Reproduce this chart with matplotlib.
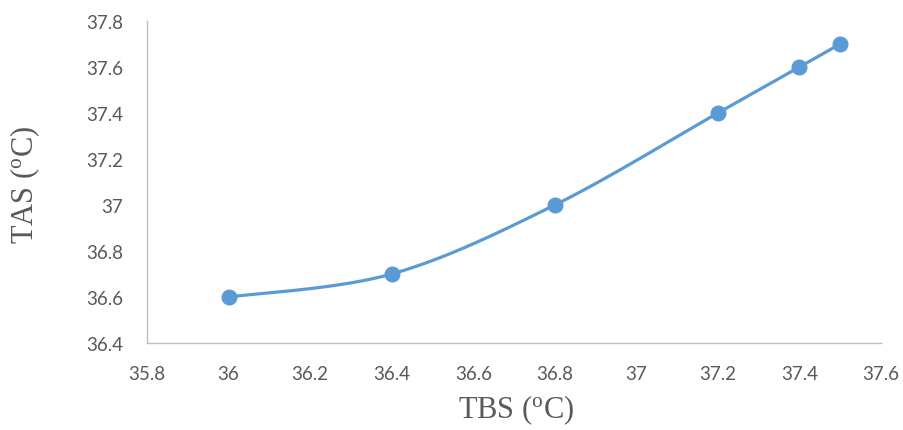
import matplotlib
matplotlib.use('Agg')
import matplotlib.pyplot as plt
import numpy as np

tbs = [36.0, 36.4, 36.8, 37.2, 37.4, 37.5]
tas = [36.6, 36.7, 37.0, 37.4, 37.6, 37.7]
x_ticks = [35.8, 36.0, 36.2, 36.4, 36.6, 36.8, 37.0, 37.2, 37.4, 37.6]
y_ticks = [36.4, 36.6, 36.8, 37.0, 37.2, 37.4, 37.6, 37.8]

BLUE = '#5B9BD5'
GREY = '#595959'


def smooth_curve(xs, ys, n=40):
    # excel style smoothing: bezier segments with catmull-rom control points
    pts = np.column_stack([xs, ys])
    out = []
    for i in range(len(pts) - 1):
        p0 = pts[i - 1] if i > 0 else pts[i]
        p1 = pts[i]
        p2 = pts[i + 1]
        p3 = pts[i + 2] if i + 2 < len(pts) else pts[i + 1]
        c1 = p1 + (p2 - p0) / 6.0
        c2 = p2 - (p3 - p1) / 6.0
        t = np.linspace(0, 1, n)[:, None]
        seg = ((1 - t) ** 3 * p1 + 3 * (1 - t) ** 2 * t * c1
               + 3 * (1 - t) * t ** 2 * c2 + t ** 3 * p2)
        out.append(seg if i == 0 else seg[1:])
    out = np.vstack(out)
    return out[:, 0], out[:, 1]


fig = plt.figure(figsize=(9.04, 4.31), dpi=100)
ax = fig.add_axes([147 / 904, 1 - 344 / 431, (881 - 147) / 904, (344 - 22) / 431])

sx, sy = smooth_curve(tbs, tas)
ax.plot(sx, sy, color=BLUE, lw=2.3, solid_capstyle='round', zorder=2)
ax.plot(tbs, tas, 'o', color=BLUE, markersize=10.5, zorder=3)

ax.set_xlim(35.8, 37.6)
ax.set_ylim(36.4, 37.8)
ax.set_xticks(x_ticks)
ax.set_yticks(y_ticks)
ax.set_xticklabels(['{:g}'.format(v) for v in x_ticks])
ax.set_yticklabels(['{:g}'.format(v) for v in y_ticks])
ax.tick_params(length=0, labelsize=13.5, colors=GREY, labelfontfamily='Lato')
ax.tick_params(axis='x', pad=16)
ax.tick_params(axis='y', pad=17)

for side in ['top', 'right']:
    ax.spines[side].set_visible(False)
for side in ['left', 'bottom']:
    ax.spines[side].set_color('#BFBFBF')
    ax.spines[side].set_linewidth(1.0)

ax.set_xlabel(r'TBS ($\mathregular{^o}$C)', fontsize=22, family='Liberation Serif', color=GREY)
ax.set_ylabel(r'TAS ($\mathregular{^o}$C)', fontsize=22, family='Liberation Serif', color=GREY)
ax.xaxis.set_label_coords((516 - 147) / (881 - 147), (344 - 410) / (344 - 22))
ax.yaxis.set_label_coords((25 - 147) / (881 - 147), (344 - 185) / (344 - 22))
ax.xaxis.label.set_va('center')
ax.yaxis.label.set_va('center')

fig.savefig('out.png', dpi=100)
